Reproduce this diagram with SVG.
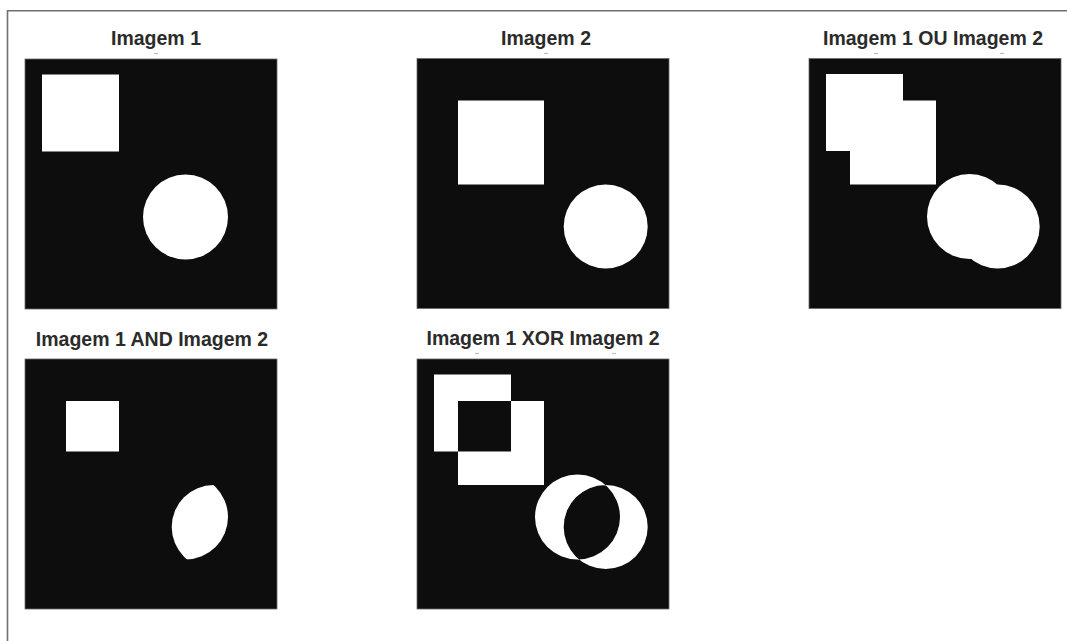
<svg xmlns="http://www.w3.org/2000/svg" xmlns:xlink="http://www.w3.org/1999/xlink" width="1067" height="641" viewBox="0 0 1067 641">
<style>
.title{font-family:"Liberation Sans",Arial,sans-serif;font-weight:bold;font-size:19.5px;fill:#2b2b2b;text-anchor:middle}
.bg{fill:#0d0d0d;stroke:#6a6a6a;stroke-width:0.8}
.w{fill:#ffffff}
.tick{stroke:#bdbdbd;stroke-width:1.2}
</style>
<defs>
<path id="sq1" d="M17,15.5 h77 v77 h-77z"/>
<path id="sq2" d="M41,42 h86 v84 h-86z"/>
<circle id="c1" cx="160.5" cy="158" r="42.5"/>
<circle id="c2" cx="188.7" cy="168" r="42"/>
<clipPath id="clipC1"><circle cx="160.5" cy="158" r="42.5"/></clipPath>
</defs>
<rect x="0" y="0" width="1067" height="641" fill="#ffffff"/>
<g id="frame" fill="none" stroke="#707070" stroke-width="1.6">
<path d="M7.5,641 V10.8 H1067"/>
</g>
<g id="imagem1">
<text class="title" x="156" y="45">Imagem 1</text>
<line class="tick" x1="154" y1="53.5" x2="158" y2="53.5"/>
<g transform="translate(25,59)">
<rect class="bg" x="0" y="0" width="252" height="250"/>
<use xlink:href="#sq1" class="w"/>
<use xlink:href="#c1" class="w"/>
</g>
</g>
<g id="imagem2">
<text class="title" x="546" y="45">Imagem 2</text>
<line class="tick" x1="544" y1="53.5" x2="548" y2="53.5"/>
<g transform="translate(417,58.5)">
<rect class="bg" x="0" y="0" width="252" height="250"/>
<use xlink:href="#sq2" class="w"/>
<use xlink:href="#c2" class="w"/>
</g>
</g>
<g id="ou">
<text class="title" x="933" y="45">Imagem 1 OU Imagem 2</text>
<line class="tick" x1="874" y1="53.5" x2="878" y2="53.5"/>
<line class="tick" x1="1000" y1="53.5" x2="1004" y2="53.5"/>
<g transform="translate(809,58.5)">
<rect class="bg" x="0" y="0" width="252" height="250"/>
<use xlink:href="#sq1" class="w"/>
<use xlink:href="#sq2" class="w"/>
<use xlink:href="#c1" class="w"/>
<use xlink:href="#c2" class="w"/>
</g>
</g>
<g id="and">
<text class="title" x="152" y="346">Imagem 1 AND Imagem 2</text>
<g transform="translate(25,359)">
<rect class="bg" x="0" y="0" width="252" height="250"/>
<rect class="w" x="41" y="42" width="53" height="50.5"/>
<circle class="w" cx="188.7" cy="168" r="42" clip-path="url(#clipC1)"/>
</g>
</g>
<g id="xor">
<text class="title" x="543" y="345">Imagem 1 XOR Imagem 2</text>
<line class="tick" x1="475" y1="353.5" x2="479" y2="353.5"/>
<line class="tick" x1="612" y1="353.5" x2="616" y2="353.5"/>
<g transform="translate(417,359)">
<rect class="bg" x="0" y="0" width="252" height="250"/>
<path class="w" fill-rule="evenodd" d="M17,15.5 h77 v77 h-77z M41,42 h86 v84 h-86z"/>
<path class="w" fill-rule="evenodd" d="M118,158 a42.5,42.5 0 1,0 85,0 a42.5,42.5 0 1,0 -85,0z M146.7,168 a42,42 0 1,0 84,0 a42,42 0 1,0 -84,0z"/>
</g>
</g>
</svg>
